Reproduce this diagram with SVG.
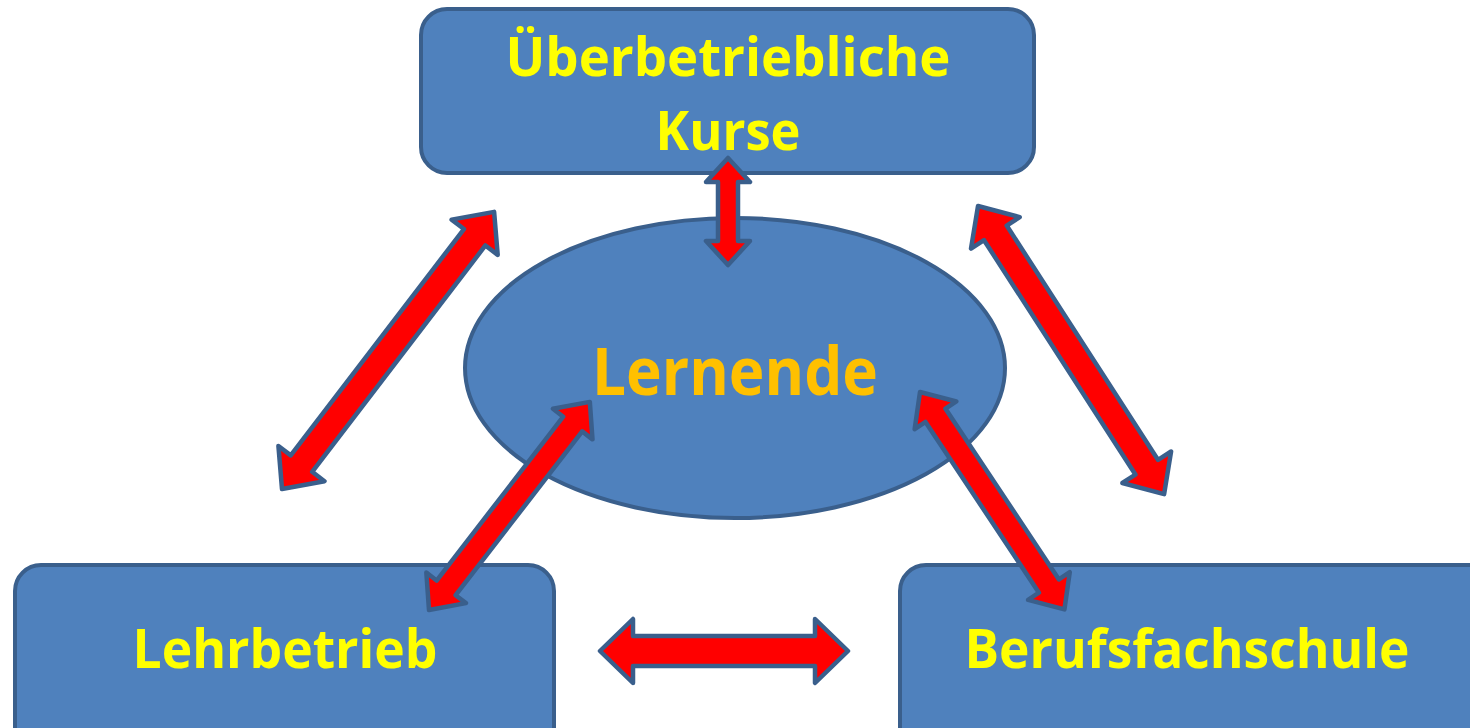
<svg xmlns="http://www.w3.org/2000/svg" width="1470" height="728" viewBox="0 0 1470 728">
<style>
.node{fill:#4F81BD;stroke:#3A5F8C;stroke-width:4}
.lbl{font-family:"Open Sans","Liberation Sans",sans-serif;font-weight:700;fill:#FFFF00;text-anchor:middle}
.arr{fill:#FF0000;stroke:#3A5F8C;stroke-width:4.5;stroke-linejoin:round}
</style>
<rect width="1470" height="728" fill="#FFFFFF"/>
<g id="node-kurse">
<rect class="node" x="421" y="9" width="613" height="164" rx="26"/>
<text class="lbl" x="728" y="76" font-size="54" textLength="445" lengthAdjust="spacingAndGlyphs">Überbetriebliche</text>
<text class="lbl" x="728" y="150" font-size="54" textLength="145" lengthAdjust="spacingAndGlyphs">Kurse</text>
</g>
<g id="node-lernende">
<ellipse class="node" cx="735" cy="368" rx="270" ry="150"/>
<text class="lbl" x="735" y="395" font-size="67" style="fill:#FFC000" textLength="286" lengthAdjust="spacingAndGlyphs">Lernende</text>
</g>
<g id="node-lehrbetrieb">
<rect class="node" x="15" y="565" width="539" height="190" rx="26"/>
<text class="lbl" x="285" y="668" font-size="54" textLength="305" lengthAdjust="spacingAndGlyphs">Lehrbetrieb</text>
</g>
<g id="node-berufsfachschule">
<rect class="node" x="900" y="565" width="600" height="190" rx="26"/>
<text class="lbl" x="1187" y="668" font-size="54" textLength="445" lengthAdjust="spacingAndGlyphs">Berufsfachschule</text>
</g>
<g id="connectors">
<path class="arr" transform="translate(282,489) rotate(-52.57)" d="M0,0 L32,-29 L32,-13.5 L317,-13.5 L317,-29 L349,0 L317,29 L317,13.5 L32,13.5 L32,29 Z"/>
<path class="arr" transform="translate(978,206) rotate(57.14)" d="M0,0 L32,-29 L32,-13.5 L311,-13.5 L311,-29 L343,0 L311,29 L311,13.5 L32,13.5 L32,29 Z"/>
<path class="arr" transform="translate(429,610) rotate(-52.3)" d="M0,0 L28,-25 L28,-12 L235,-12 L235,-25 L263,0 L235,25 L235,12 L28,12 L28,25 Z"/>
<path class="arr" transform="translate(920,392) rotate(56.4)" d="M0,0 L28,-25 L28,-12 L233,-12 L233,-25 L261,0 L233,25 L233,12 L28,12 L28,25 Z"/>
<path class="arr" transform="translate(728,158) rotate(90)" d="M0,0 L24,-22 L24,-10 L83,-10 L83,-22 L107,0 L83,22 L83,10 L24,10 L24,22 Z"/>
<path class="arr" transform="translate(600,651)" d="M0,0 L33,-32 L33,-15 L215,-15 L215,-32 L248,0 L215,32 L215,15 L33,15 L33,32 Z"/>
</g>
</svg>
